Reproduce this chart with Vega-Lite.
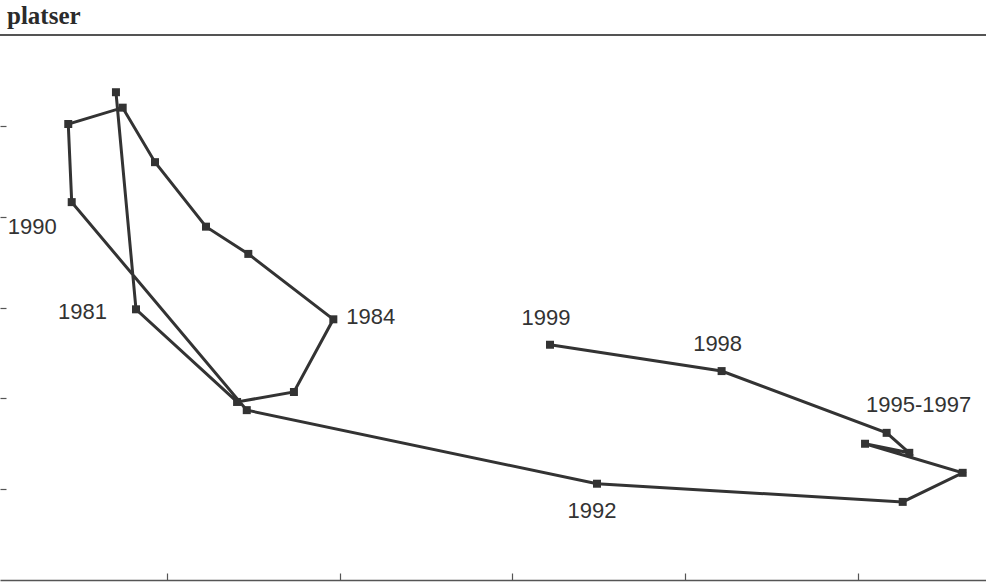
{
  "$schema": "https://vega.github.io/schema/vega-lite/v6.json",
  "description": "Lediga platser mot arbetslöshet 1980-1999 (connected scatter)",
  "width": 986,
  "height": 545,
  "autosize": "none",
  "padding": {"left": 0, "right": 0, "top": 35, "bottom": 6},
  "background": "white",
  "title": {
    "text": "platser",
    "font": "Liberation Serif",
    "fontWeight": "bold",
    "fontSize": 25,
    "color": "#2b2b2b",
    "anchor": "start",
    "frame": "group",
    "orient": "top",
    "baseline": "bottom",
    "offset": 8,
    "dx": 7,
    "dy": 28
  },
  "config": {
    "view": {"stroke": null},
    "text": {"font": "Liberation Sans", "fontSize": 22, "fill": "#333333", "baseline": "middle"}
  },
  "data": {
    "values": [
      {"year": 1980, "x": 0.706, "y": 53.7, "label": ""},
      {"year": 1981, "x": 0.822, "y": 29.8, "label": "1981"},
      {"year": 1982, "x": 1.407, "y": 19.6, "label": ""},
      {"year": 1983, "x": 1.736, "y": 20.7, "label": ""},
      {"year": 1984, "x": 1.964, "y": 28.7, "label": "1984"},
      {"year": 1985, "x": 1.472, "y": 35.9, "label": ""},
      {"year": 1986, "x": 1.227, "y": 38.9, "label": ""},
      {"year": 1987, "x": 0.932, "y": 46.0, "label": ""},
      {"year": 1988, "x": 0.745, "y": 52.0, "label": ""},
      {"year": 1989, "x": 0.430, "y": 50.2, "label": ""},
      {"year": 1990, "x": 0.450, "y": 41.6, "label": "1990"},
      {"year": 1991, "x": 1.463, "y": 18.7, "label": ""},
      {"year": 1992, "x": 3.490, "y": 10.6, "label": "1992"},
      {"year": 1993, "x": 5.259, "y": 8.6, "label": ""},
      {"year": 1994, "x": 5.606, "y": 11.8, "label": ""},
      {"year": 1995, "x": 5.041, "y": 15.0, "label": ""},
      {"year": 1996, "x": 5.297, "y": 14.0, "label": ""},
      {"year": 1997, "x": 5.166, "y": 16.2, "label": "1995-1997"},
      {"year": 1998, "x": 4.211, "y": 23.0, "label": "1998"},
      {"year": 1999, "x": 3.218, "y": 25.9, "label": "1999"}
    ]
  },
  "encoding": {
    "x": {
      "field": "x",
      "type": "quantitative",
      "scale": {"domain": [0.035, 5.741], "nice": false, "zero": false},
      "axis": {
        "orient": "bottom",
        "title": null,
        "labels": false,
        "grid": false,
        "values": [1, 2, 3, 4, 5],
        "tickSize": -7,
        "tickColor": "#555555",
        "tickWidth": 1.2,
        "domainColor": "#555555",
        "domainWidth": 1.6
      }
    },
    "y": {
      "field": "y",
      "type": "quantitative",
      "scale": {"domain": [0, 60], "nice": false},
      "axis": {
        "title": null,
        "labels": false,
        "grid": false,
        "domain": false,
        "values": [10, 20, 30, 40, 50],
        "tickSize": -6,
        "tickColor": "#555555",
        "tickWidth": 1.2
      }
    }
  },
  "layer": [
    {
      "mark": {"type": "rule", "color": "#555555", "strokeWidth": 1.4},
      "encoding": {"y": {"datum": 60}, "x": {"datum": 0.035}, "x2": {"datum": 5.741}}
    },
    {
      "mark": {"type": "line", "color": "#333333", "strokeWidth": 3},
      "encoding": {"order": {"field": "year", "type": "quantitative"}}
    },
    {
      "mark": {"type": "point", "shape": "square", "filled": true, "color": "#333333", "size": 64, "opacity": 1}
    },
    {
      "transform": [{"filter": "datum.year == 1990"}],
      "mark": {"type": "text", "align": "right", "dx": -15, "dy": 25},
      "encoding": {"text": {"field": "label"}}
    },
    {
      "transform": [{"filter": "datum.year == 1981"}],
      "mark": {"type": "text", "align": "right", "dx": -29, "dy": 3},
      "encoding": {"text": {"field": "label"}}
    },
    {
      "transform": [{"filter": "datum.year == 1984"}],
      "mark": {"type": "text", "align": "left", "dx": 13, "dy": -2},
      "encoding": {"text": {"field": "label"}}
    },
    {
      "transform": [{"filter": "datum.year == 1999 || datum.year == 1998"}],
      "mark": {"type": "text", "align": "center", "dx": -4, "dy": -27},
      "encoding": {"text": {"field": "label"}}
    },
    {
      "transform": [{"filter": "datum.year == 1997"}],
      "mark": {"type": "text", "align": "center", "dx": 32, "dy": -28},
      "encoding": {"text": {"field": "label"}}
    },
    {
      "transform": [{"filter": "datum.year == 1992"}],
      "mark": {"type": "text", "align": "center", "dx": -5, "dy": 27},
      "encoding": {"text": {"field": "label"}}
    }
  ]
}
